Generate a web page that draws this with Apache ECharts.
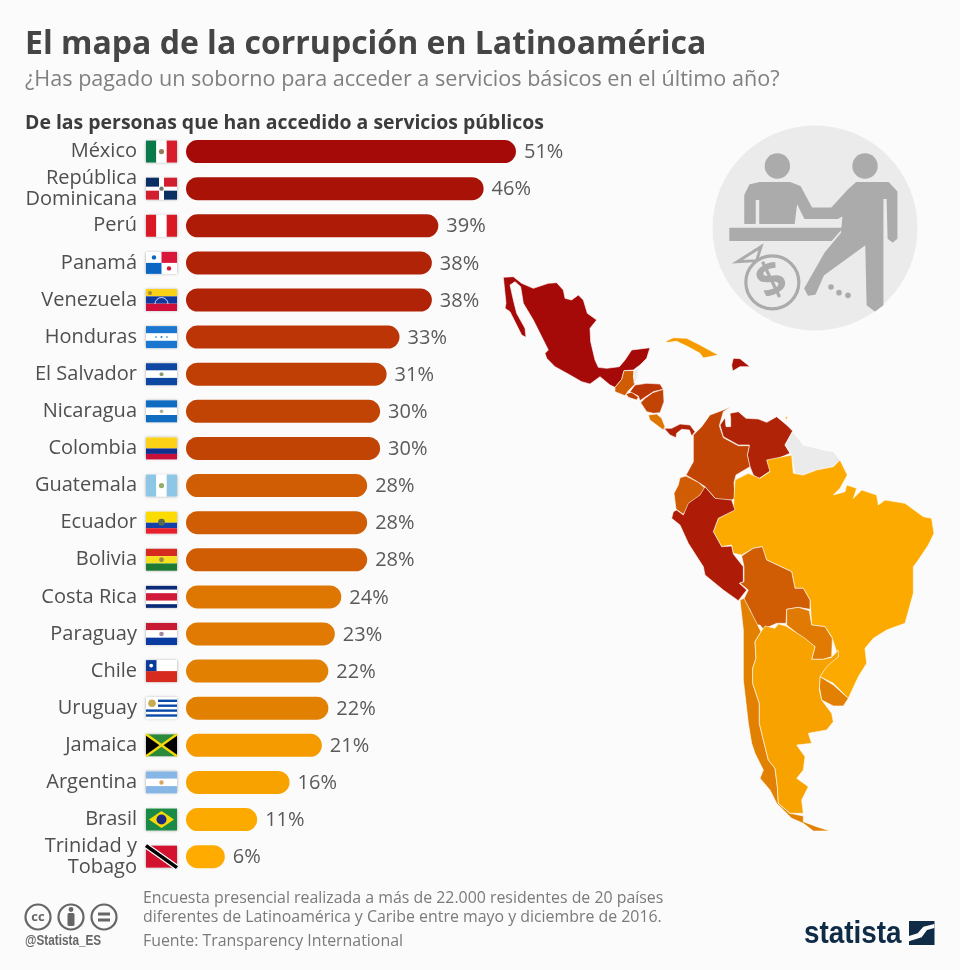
<!DOCTYPE html>
<html>
<head>
<meta charset="utf-8">
<script src="https://cdn.jsdelivr.net/npm/echarts@6/dist/echarts.min.js"></script>
<style>
  html, body { margin: 0; background: #fbfbfb; }
  #chart { width: 960px; height: 970px; }
</style>
</head>
<body>
<div id="chart"></div>
<script>
const categories = ['México', 'República Dominicana', 'Perú', 'Panamá', 'Venezuela', 'Honduras', 'El Salvador', 'Nicaragua', 'Colombia', 'Guatemala', 'Ecuador', 'Bolivia', 'Costa Rica', 'Paraguay', 'Chile', 'Uruguay', 'Jamaica', 'Argentina', 'Brasil', 'Trinidad y Tobago']
const values = [51, 46, 39, 38, 38, 33, 31, 30, 30, 28, 28, 28, 24, 23, 22, 22, 21, 16, 11, 6]
const barColors = ['#a50a08', '#a81207', '#ae1c07', '#b02307', '#b02307', '#bc3506', '#c03f05', '#c24405', '#c24405', '#d05c03', '#d05c03', '#d05c03', '#de7602', '#e07a02', '#e28002', '#e28002', '#f59b00', '#f8a200', '#fdaa00', '#ffab00']

const fontFamily = '"Open Sans", sans-serif'

// map outlines, in crop coordinates (3x zoom)
const crop = (ox, oy) => pts => pts.map(p => [ox + p[0] / 3, -(oy + p[1] / 3)])
const top1 = crop(500, 270)
const north = crop(660, 395)
const south = crop(600, 450)

const outlines = {
  'México': top1([[10,22],[40,20],[65,40],[100,55],[145,40],[170,38],[190,60],[195,85],[215,90],[235,75],[250,90],[262,130],[290,150],[270,175],[272,215],[285,270],[295,292],[320,295],[358,290],[375,270],[395,240],[450,233],[440,265],[420,285],[400,300],[372,302],[365,328],[345,352],[330,345],[300,320],[270,342],[245,335],[210,315],[165,290],[140,265],[135,250],[145,240],[120,190],[100,150],[70,100],[62,50],[45,35],[30,45],[40,90],[50,130],[75,175],[78,202],[65,195],[50,165],[30,125],[15,115],[18,100]]),
  'Guatemala': top1([[372,302],[402,302],[400,320],[405,342],[385,362],[375,377],[345,365],[345,352],[365,328]]),
  'El Salvador': top1([[378,372],[395,366],[415,382],[410,390],[385,382]]),
  'Honduras': top1([[405,345],[440,340],[480,342],[490,358],[460,365],[430,385],[420,392],[415,378],[390,365]]),
  'Nicaragua': top1([[458,368],[490,358],[492,395],[480,428],[460,430],[440,425],[422,398],[435,385]]),
  'Costa Rica': top1([[445,435],[470,432],[485,445],[495,470],[490,480],[470,465],[450,450]]),
  'Panamá': top1([[492,475],[515,475],[540,462],[570,465],[585,485],[575,498],[568,480],[545,478],[530,490],[528,503],[510,495]]),
  'Cuba': top1([[495,215],[520,203],[560,205],[600,225],[655,255],[610,264],[600,250],[560,228],[530,214],[505,217]]),
  'República Dominicana': top1([[700,265],[720,266],[750,290],[720,290],[698,303],[695,285]]),
  'Belice': top1([[402,302],[418,292],[410,330],[402,340]]),
  'Venezuela': north([[180,90],[195,68],[198,95],[212,95],[212,70],[210,55],[235,50],[258,70],[295,72],[320,82],[350,65],[380,90],[398,108],[375,150],[390,175],[355,190],[322,200],[335,225],[295,252],[280,240],[268,210],[262,180],[268,150],[235,150],[190,125]]),
  'Colombia': north([[212,35],[190,50],[178,92],[190,128],[235,152],[268,152],[262,180],[270,215],[228,240],[222,262],[225,310],[215,315],[170,315],[135,275],[115,262],[78,240],[100,200],[100,120],[125,95],[150,60],[190,45]]),
  'Guayanas': north([[398,110],[430,150],[490,165],[520,170],[540,195],[520,215],[470,230],[425,243],[405,235],[392,175],[375,150]]),
  'Ecuador': north([[60,248],[78,243],[115,262],[135,280],[125,305],[95,325],[70,358],[48,342],[42,295],[55,270]]),
  'Trinidad y Tobago': north([[375,65],[383,65],[380,76]]),
  'Brasil': south([[575,15],[580,70],[610,75],[650,60],[700,50],[720,30],[742,75],[720,115],[700,135],[735,125],[740,105],[770,115],[760,145],[785,120],[830,135],[835,165],[855,150],[915,160],[970,200],[995,205],[1002,250],[985,285],[955,330],[940,350],[940,430],[915,520],[860,540],[820,565],[795,595],[800,640],[775,680],[745,745],[700,700],[660,680],[680,645],[715,620],[705,590],[695,560],[675,530],[635,525],[630,450],[610,415],[585,415],[575,365],[500,330],[485,290],[460,295],[425,315],[400,310],[395,285],[365,290],[340,245],[355,205],[400,180],[405,90],[445,70],[480,85],[510,65],[500,30]]),
  'Perú': south([[230,180],[250,195],[265,160],[300,135],[315,110],[345,145],[395,150],[405,180],[355,205],[340,245],[365,290],[395,288],[400,312],[430,350],[430,395],[418,400],[440,420],[415,452],[370,420],[315,375],[310,350],[265,280],[240,225],[215,205],[220,185]]),
  'Bolivia': south([[425,318],[460,295],[487,290],[500,330],[575,365],[585,415],[610,415],[630,450],[630,478],[595,472],[560,478],[558,520],[530,520],[490,538],[480,525],[465,525],[450,480],[430,450],[445,420],[420,400],[432,395],[432,350]]),
  'Paraguay': south([[560,478],[595,472],[628,482],[635,525],[675,530],[697,565],[695,620],[670,628],[635,628],[645,590],[610,565],[560,525]]),
  'Uruguay': south([[660,680],[700,705],[745,745],[730,768],[700,768],[665,750],[658,710]]),
  'Chile': south([[420,450],[432,445],[450,480],[483,545],[465,575],[468,625],[458,655],[458,700],[478,760],[478,820],[490,870],[505,930],[525,955],[532,1010],[535,1060],[570,1090],[610,1098],[610,1115],[650,1130],[690,1143],[640,1143],[610,1120],[575,1105],[530,1060],[510,1020],[480,985],[490,960],[465,910],[455,880],[445,820],[430,690],[430,540]]),
  'Argentina': south([[483,545],[495,528],[525,535],[535,522],[558,528],[615,565],[645,590],[635,628],[670,628],[695,622],[715,600],[715,620],[680,650],[660,680],[658,720],[665,750],[695,790],[700,815],[680,840],[625,850],[635,880],[590,885],[615,920],[610,960],[590,985],[625,1010],[605,1050],[610,1090],[570,1090],[535,1060],[532,1010],[525,955],[505,930],[490,870],[478,820],[478,760],[458,700],[458,655],[468,625],[465,575]])
}

echarts.registerMap('latam', {
  type: 'FeatureCollection',
  features: Object.keys(outlines).map(name => ({
    type: 'Feature',
    properties: { name: name },
    geometry: { type: 'Polygon', coordinates: [outlines[name].concat([outlines[name][0]])] }
  }))
})

const mapData = categories.map((name, i) => ({
  name: name, value: values[i], itemStyle: { areaColor: barColors[i] }
}))
mapData.push({ name: 'Cuba', itemStyle: { areaColor: '#f59b00' } })

// small flags, 31 x 22
const r = (x, y, w, h, c) => ({ type: 'rect', shape: { x: x, y: y, width: w, height: h }, style: { fill: c } })
const dot = (x, y, d, c) => ({ type: 'circle', shape: { cx: x, cy: y, r: d }, style: { fill: c } })
const poly = (pts, c) => ({ type: 'polygon', shape: { points: pts }, style: { fill: c } })
const hStripes = cols => cols.map((c, i) => r(0, i * 22 / cols.length, 31, 22 / cols.length, c))
const vStripes = cols => cols.map((c, i) => r(i * 31 / cols.length, 0, 31 / cols.length, 22, c))

const flags = {
  'México': vStripes(['#0b7a4b', '#ffffff', '#d81c2c']).concat([dot(15.5, 11, 2.6, '#9a7a55')]),
  'República Dominicana': [r(0, 0, 31, 22, '#fff'), r(0, 0, 13, 9, '#0b2e63'), r(18, 0, 13, 9, '#d21f2f'), r(0, 13, 13, 9, '#d21f2f'), r(18, 13, 13, 9, '#0b2e63'), dot(15.5, 11, 2.2, '#6b7a70')],
  'Perú': vStripes(['#d91a24', '#ffffff', '#d91a24']),
  'Panamá': [r(0, 0, 31, 22, '#fff'), r(15.5, 0, 15.5, 11, '#d9173a'), r(0, 11, 15.5, 11, '#0a66c2'), dot(8, 5.5, 2.2, '#0a66c2'), dot(23, 16.5, 2.2, '#d9173a')],
  'Venezuela': hStripes(['#fcd116', '#10389f', '#d0103a']).concat([dot(4, 4, 2, '#a08a3c'), { type: 'arc', shape: { cx: 15.5, cy: 15, r: 6.5, startAngle: Math.PI, endAngle: 0 }, style: { stroke: '#fff', lineWidth: 0.8, fill: null } }]),
  'Honduras': hStripes(['#1a76cf', '#ffffff', '#1a76cf']).concat([dot(15.5, 11, 1, '#1a76cf'), dot(10, 11, 0.8, '#1a76cf'), dot(21, 11, 0.8, '#1a76cf')]),
  'El Salvador': hStripes(['#0e47a1', '#ffffff', '#0e47a1']).concat([dot(15.5, 11, 2, '#8a9a70')]),
  'Nicaragua': hStripes(['#0f6cc0', '#ffffff', '#0f6cc0']).concat([dot(15.5, 11, 1.8, '#a8b090')]),
  'Colombia': [r(0, 0, 31, 11, '#fcd116'), r(0, 11, 31, 5.5, '#10308f'), r(0, 16.5, 31, 5.5, '#c8103a')],
  'Guatemala': vStripes(['#8ec6e6', '#ffffff', '#8ec6e6']).concat([dot(15.5, 11, 2.6, '#8fae6a')]),
  'Ecuador': [r(0, 0, 31, 11, '#fcdc00'), r(0, 11, 31, 5.5, '#1440a8'), r(0, 16.5, 31, 5.5, '#e8202c'), dot(15.5, 10.5, 3.4, '#5a6a50')],
  'Bolivia': hStripes(['#d52b1e', '#f5e020', '#1d7a32']).concat([dot(15.5, 11, 2.4, '#9a8a40')]),
  'Costa Rica': [r(0, 0, 31, 22, '#fff'), r(0, 0, 31, 3.7, '#0a2a78'), r(0, 18.3, 31, 3.7, '#0a2a78'), r(0, 7.3, 31, 7.4, '#d01c3a')],
  'Paraguay': hStripes(['#c81c34', '#ffffff', '#0a3ba0']).concat([dot(15.5, 11, 2.3, '#a08aa0')]),
  'Chile': [r(0, 0, 31, 11, '#fff'), r(0, 11, 31, 11, '#d72b20'), r(0, 0, 10.5, 11, '#0a3a9a'), dot(5.2, 5.5, 1.9, '#fff')],
  'Uruguay': [r(0, 0, 31, 22, '#fff'), r(12, 2.4, 19, 2.4, '#0a4aa8'), r(12, 7.3, 19, 2.4, '#0a4aa8'), r(0, 12.2, 31, 2.4, '#0a4aa8'), r(0, 17.1, 31, 2.4, '#0a4aa8'), dot(6, 6, 3.8, '#c8aa50')],
  'Jamaica': [r(0, 0, 31, 22, '#2a8a3a'), poly([[0, 0], [15.5, 11], [0, 22]], '#000'), poly([[31, 0], [15.5, 11], [31, 22]], '#000'), { type: 'line', shape: { x1: 0, y1: 0, x2: 31, y2: 22 }, style: { stroke: '#f5d90a', lineWidth: 2.4 } }, { type: 'line', shape: { x1: 31, y1: 0, x2: 0, y2: 22 }, style: { stroke: '#f5d90a', lineWidth: 2.4 } }],
  'Argentina': hStripes(['#86b6e6', '#ffffff', '#86b6e6']).concat([dot(15.5, 11, 2.2, '#d9a860')]),
  'Brasil': [r(0, 0, 31, 22, '#1b8a44'), poly([[15.5, 2.5], [28, 11], [15.5, 19.5], [3, 11]], '#f7d90a'), dot(15.5, 11, 5, '#1a2a80')],
  'Trinidad y Tobago': [r(0, 0, 31, 22, '#d2122e'), { type: 'line', shape: { x1: 0, y1: 0, x2: 31, y2: 22 }, style: { stroke: '#fff', lineWidth: 6 } }, { type: 'line', shape: { x1: 0, y1: 0, x2: 31, y2: 22 }, style: { stroke: '#000', lineWidth: 3.6 } }]
}

// illustration in the top right corner, traced in crop coordinates
const ix = x => 700 + x / 3
const iy = y => 140 + y / 3
const ipts = pts => pts.map(p => [ix(p[0]), iy(p[1])])
const iconGrey = '#ababab'
const illustration = [
  { type: 'circle', shape: { cx: 815, cy: 228, r: 102.5 }, style: { fill: '#ebebeb' } },
  { type: 'circle', shape: { cx: ix(232), cy: iy(78), r: 12.7 }, style: { fill: iconGrey } },
  { type: 'circle', shape: { cx: ix(495), cy: iy(78), r: 12.7 }, style: { fill: iconGrey } },
  { type: 'polygon', shape: { points: ipts([[445,150],[470,128],[565,128],[590,155],[590,295],[578,305],[565,295],[562,175],[548,175],[548,495],[525,512],[502,495],[498,312],[370,405],[345,462],[325,465],[315,445],[375,340],[425,280],[430,225],[412,235],[330,235],[315,235],[290,185],[282,250],[180,250],[180,178],[165,178],[165,250],[135,250],[135,165],[150,135],[180,128],[270,128],[300,140],[335,205],[395,205]]) }, style: { fill: iconGrey, stroke: iconGrey, lineWidth: 1.5, lineJoin: 'round' } },
  { type: 'polygon', shape: { points: ipts([[88,263],[430,263],[395,303],[88,303]]) }, style: { fill: iconGrey } },
  { type: 'polygon', shape: { points: ipts([[112,365],[183,320],[170,362]]) }, style: { fill: '#ebebeb', stroke: iconGrey, lineWidth: 3 } },
  { type: 'circle', shape: { cx: ix(217), cy: iy(427), r: 26.5 }, style: { fill: '#ebebeb', stroke: iconGrey, lineWidth: 3.2 } },
  { type: 'text', x: ix(217), y: iy(427), rotation: 0.45, style: { text: '$', fill: iconGrey, font: 'bold 48px ' + fontFamily, align: 'center', verticalAlign: 'middle' } },
  { type: 'circle', shape: { cx: ix(393), cy: iy(441), r: 2.8 }, style: { fill: iconGrey } },
  { type: 'circle', shape: { cx: ix(417), cy: iy(458), r: 2.8 }, style: { fill: iconGrey } },
  { type: 'circle', shape: { cx: ix(444), cy: iy(466), r: 2.8 }, style: { fill: iconGrey } }
]

const ccGrey = '#666666'
const ring = x => ({ type: 'circle', shape: { cx: x, cy: 917, r: 12.5 }, style: { fill: 'none', stroke: ccGrey, lineWidth: 2.2 } })
const licence = [
  ring(38), ring(71), ring(104),
  { type: 'text', x: 38, y: 917, style: { text: 'cc', fill: ccGrey, font: 'bold 13px ' + fontFamily, align: 'center', verticalAlign: 'middle' } },
  { type: 'circle', shape: { cx: 71, cy: 909.5, r: 2.4 }, style: { fill: ccGrey } },
  { type: 'rect', shape: { x: 67.5, y: 913, width: 7, height: 13, r: 1.5 }, style: { fill: ccGrey } },
  { type: 'rect', shape: { x: 98, y: 912.5, width: 12, height: 3 }, style: { fill: ccGrey } },
  { type: 'rect', shape: { x: 98, y: 918.5, width: 12, height: 3 }, style: { fill: ccGrey } },
  { type: 'text', x: 25, y: 941, scaleX: 0.84, style: { text: '@Statista_ES', fill: ccGrey, font: 'bold 14px "Liberation Sans", sans-serif', verticalAlign: 'middle' } }
]

const lx = x => 795 + x / 3
const ly = y => 910 + y / 3
const logo = [
  { type: 'text', x: 804, y: 934, scaleX: 0.87, style: { text: 'statista', fill: '#0f2b46', font: 'bold 32px "Liberation Sans", sans-serif', verticalAlign: 'middle' } },
  { type: 'rect', shape: { x: 909, y: 921, width: 25.5, height: 24 }, style: { fill: '#0f2b46' } },
  { type: 'polygon', shape: { points: [[342,78],[368,70],[385,50],[418,42],[418,54],[396,60],[380,82],[342,94]].map(p => [lx(p[0]), ly(p[1])]) }, style: { fill: '#fbfbfb' } }
]

const textLine = (text, left, top, size, weight, color) => ({
  text: text, left: left, top: top, padding: 0,
  textStyle: { fontFamily: fontFamily, fontSize: size, fontWeight: weight, color: color }
})

const chart = echarts.init(document.getElementById('chart'))

chart.setOption({
  animation: false,
  backgroundColor: '#fbfbfb',
  title: [
    textLine('El mapa de la corrupción en Latinoamérica', 25, 29, 32, 'bold', '#454545'),
    textLine('¿Has pagado un soborno para acceder a servicios básicos en el último año?', 25, 69, 21.6, 'normal', '#808080'),
    textLine('De las personas que han accedido a servicios públicos', 25, 114, 19.45, 'bold', '#3c3c3c'),
    textLine('Encuesta presencial realizada a más de 22.000 residentes de 20 países', 143, 890, 15.9, 'normal', '#7a7a7a'),
    textLine('diferentes de Latinoamérica y Caribe entre mayo y diciembre de 2016.', 143, 909, 15.9, 'normal', '#7a7a7a'),
    textLine('Fuente: Transparency International', 143, 933, 15.9, 'normal', '#7a7a7a')
  ],
  grid: { left: 186, top: 133, width: 388.2, height: 742.2 },
  xAxis: { type: 'value', min: 0, max: 60, show: false },
  yAxis: {
    type: 'category',
    inverse: true,
    data: categories,
    axisLine: { show: false },
    axisTick: { show: false },
    axisLabel: {
      margin: 49,
      fontFamily: fontFamily,
      fontSize: 20,
      lineHeight: 21,
      color: '#4f4f4f',
      interval: 0,
      verticalAlignMinLabel: 'middle',
      rich: {},
      formatter: v => v === 'República Dominicana' ? 'República\nDominicana' : v === 'Trinidad y Tobago' ? 'Trinidad y\nTobago' : v
    }
  },
  series: [
    {
      type: 'bar',
      data: values.map((v, i) => ({ value: v, itemStyle: { color: barColors[i] } })),
      barWidth: 23,
      itemStyle: { borderRadius: 11.5 },
      label: {
        show: true,
        position: 'right',
        distance: 8,
        formatter: '{c}%',
        fontFamily: fontFamily,
        fontSize: 20,
        offset: [0, 1],
        color: '#5a5a5a'
      },
      silent: true
    },
    {
      type: 'custom',
      data: categories.map((c, i) => [0, i]),
      silent: true,
      renderItem: (params, api) => {
        const p = api.coord([0, api.value(1)])
        return {
          type: 'group',
          x: p[0] - 40,
          y: p[1] - 11,
          children: [
            { type: 'rect', shape: { x: 0, y: 0, width: 31, height: 22 }, style: { fill: '#fff', shadowBlur: 3, shadowColor: 'rgba(0,0,0,0.35)' } }
          ].concat(flags[categories[params.dataIndex]])
        }
      }
    },
    {
      type: 'map',
      map: 'latam',
      left: 0,
      top: 0,
      width: 960,
      height: 970,
      aspectScale: 1,
      boundingCoords: [[0, 0], [960, -970]],
      roam: false,
      silent: true,
      selectedMode: false,
      label: { show: false },
      emphasis: { disabled: true },
      itemStyle: { areaColor: '#ebebeb', borderColor: '#ffffff', borderWidth: 0.6 },
      data: mapData
    }
  ],
  graphic: illustration.concat(licence, logo).map(el => Object.assign({ silent: true, z: 1 }, el))
})
</script>
</body>
</html>
